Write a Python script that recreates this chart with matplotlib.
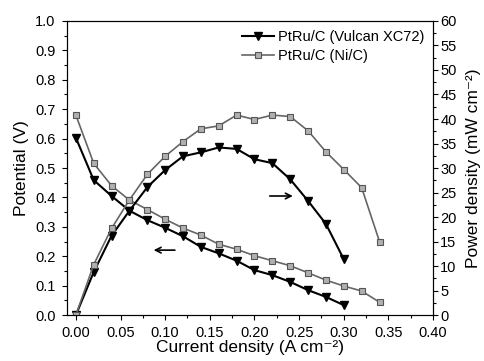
import matplotlib
matplotlib.use("Agg")
import matplotlib.pyplot as plt
from matplotlib.ticker import MultipleLocator

plt.rcParams['font.family'] = ['Liberation Sans', 'DejaVu Sans']

# current density (A cm-2)
current_vulcan = [0.00, 0.02, 0.04, 0.06, 0.08, 0.10, 0.12, 0.14, 0.16, 0.18,
                  0.20, 0.22, 0.24, 0.26, 0.28, 0.30]
current_nic = [0.00, 0.02, 0.04, 0.06, 0.08, 0.10, 0.12, 0.14, 0.16, 0.18,
               0.20, 0.22, 0.24, 0.26, 0.28, 0.30, 0.32, 0.34]

# potential (V)
volt_vulcan = [0.603, 0.459, 0.405, 0.355, 0.323, 0.297, 0.268, 0.232, 0.210, 0.185,
               0.153, 0.136, 0.113, 0.085, 0.062, 0.034]
volt_nic = [0.680, 0.516, 0.440, 0.391, 0.359, 0.326, 0.296, 0.272, 0.241, 0.224,
            0.202, 0.185, 0.168, 0.144, 0.119, 0.099, 0.082, 0.044]

# power density (mW cm-2)
power_vulcan = [0.0, 8.8, 16.2, 21.3, 26.1, 29.6, 32.4, 33.2, 34.2, 33.9,
                31.8, 31.0, 27.7, 23.3, 18.6, 11.4]
power_nic = [0.0, 10.3, 17.7, 23.5, 28.7, 32.4, 35.4, 38.0, 38.6, 40.8,
             39.9, 40.8, 40.5, 37.6, 33.3, 29.7, 26.0, 15.0]

labels = ["PtRu/C (Vulcan XC72)", "PtRu/C (Ni/C)"]

fig = plt.figure(figsize=(4.85, 3.61), dpi=100)
ax = fig.add_axes([0.138, 0.127, 0.755, 0.815])
ax2 = ax.twinx()

blk = dict(color="black", lw=1.5, marker="v", ms=6, mfc="black", mec="black")
gry = dict(color="#666666", lw=1.2, marker="s", ms=4.7, mfc="#b0b0b0", mec="#555555", mew=0.8)

l1, = ax.plot(current_vulcan, volt_vulcan, **blk)
l2, = ax.plot(current_nic, volt_nic, **gry)
ax2.plot(current_vulcan, power_vulcan, **blk)
ax2.plot(current_nic, power_nic, **gry)

ax.set_xlim(-0.01, 0.40)
ax.set_ylim(0, 1.0)
ax2.set_ylim(0, 60)

ax.xaxis.set_major_locator(MultipleLocator(0.05))
ax.xaxis.set_minor_locator(MultipleLocator(0.025))
ax.yaxis.set_major_locator(MultipleLocator(0.1))
ax.yaxis.set_minor_locator(MultipleLocator(0.05))
ax2.yaxis.set_major_locator(MultipleLocator(5))
ax2.yaxis.set_minor_locator(MultipleLocator(2.5))
ax.xaxis.set_major_formatter(plt.FormatStrFormatter('%.2f'))
ax.yaxis.set_major_formatter(plt.FormatStrFormatter('%.1f'))

for a in (ax, ax2):
    a.tick_params(which='major', direction='out', length=3.6, width=0.8, labelsize=10.5)
    a.tick_params(which='minor', direction='out', length=2, width=0.8)
ax.tick_params(top=False, which='both')
ax.tick_params(axis='y', which='major', pad=4.5)
ax.tick_params(axis='x', which='major', pad=4)
ax2.tick_params(axis='y', which='major', pad=1.5)

ax.set_xlabel("Current density (A cm\u207b\u00b2)", fontsize=12.5, labelpad=0)
ax.set_ylabel("Potential (V)", fontsize=12.5, labelpad=4.5)
ax2.set_ylabel("Power density (mW cm\u207b\u00b2)", fontsize=12.5, labelpad=7)

ax.annotate("", xy=(0.084, 0.221), xytext=(0.114, 0.221),
            arrowprops=dict(arrowstyle="->", color="black", lw=1.2))
ax.annotate("", xy=(0.246, 0.405), xytext=(0.214, 0.405),
            arrowprops=dict(arrowstyle="->", color="black", lw=1.2))

ax.legend([l1, l2], labels, loc="upper right", frameon=False, fontsize=10.5,
          handlelength=2.2, handletextpad=0.3, borderaxespad=0.2, labelspacing=0.35)

fig.savefig("out.png", dpi=100)
